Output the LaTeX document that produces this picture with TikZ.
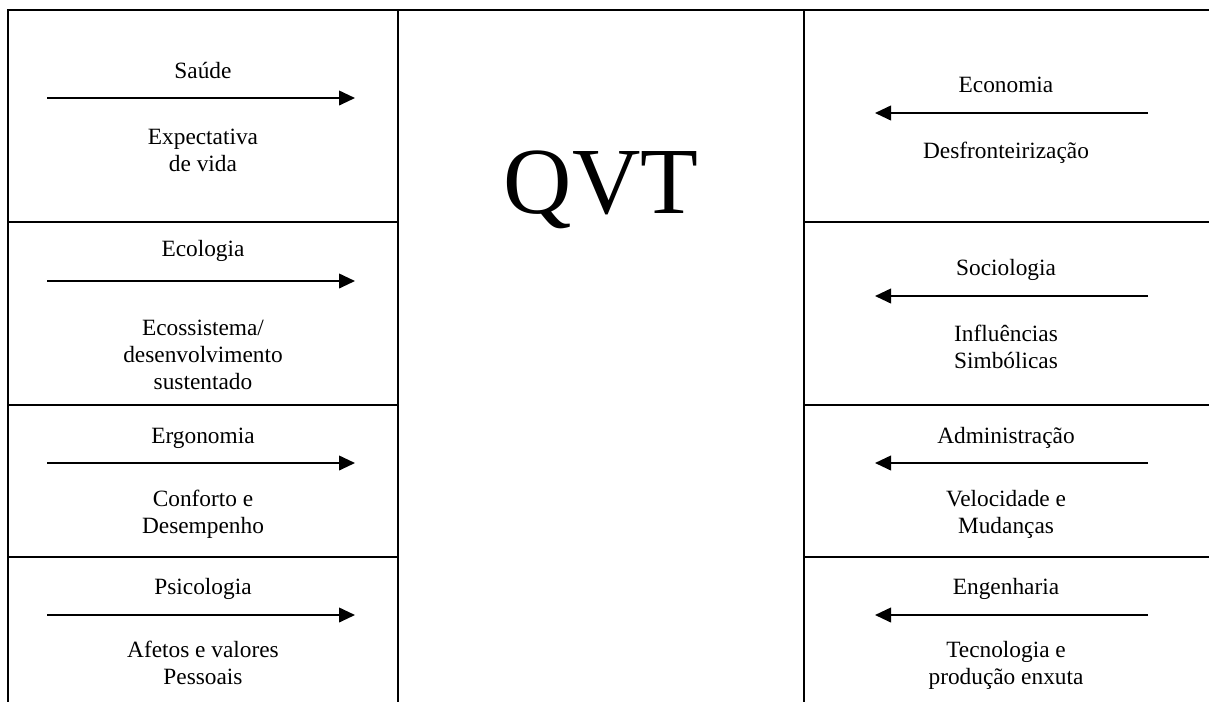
\documentclass[tikz,border=0pt]{standalone}
\usepackage{fontspec}
\setmainfont{Liberation Serif}
\usetikzlibrary{arrows.meta}
\begin{document}
\begin{tikzpicture}[x=0.75pt,y=-0.75pt,
  frame/.style={line width=2pt, line cap=rect},
  arr/.style={line width=1.4pt, -{Triangle[length=12pt,width=11pt]}},
  lbl/.style={font=\fontsize{17.5}{20.25}\selectfont, align=center, inner sep=0pt, anchor=base},
  big/.style={font=\fontsize{71}{80}\selectfont, inner sep=0pt, anchor=base}]
\useasboundingbox (0,0) rectangle (1209,701);
% table frame
\draw[frame] (8,701) -- (8,10) -- (1209,10);
\draw[frame] (398,10) -- (398,701);
\draw[frame] (804,10) -- (804,701);
\foreach \y in {222,405,557} {
  \draw[frame] (8,\y) -- (398,\y);
  \draw[frame] (804,\y) -- (1209,\y);
}
% centre
\node[big] (qvt) at (601,213) {QVT};
% left column (multi-line nodes are placed by the baseline of their last line)
\node[lbl] (saude) at (203,78) {Saúde};
\node[lbl] (saudeT) at (203,171) {Expectativa\\de vida};
\node[lbl] (eco) at (203,256) {Ecologia};
\node[lbl] (ecoT) at (203,389) {Ecossistema/\\desenvolvimento\\sustentado};
\node[lbl] (erg) at (203,443) {Ergonomia};
\node[lbl] (ergT) at (203,533) {Conforto e\\Desempenho};
\node[lbl] (psi) at (203,594) {Psicologia};
\node[lbl] (psiT) at (203,684) {Afetos e valores\\Pessoais};
\foreach \n/\y in {a/98,b/281,c/463,d/615} {
  \coordinate (L\n s) at (47,\y);
  \coordinate (L\n e) at (355,\y);
  \draw[arr] (L\n s) -- (L\n e);
}
% right column
\node[lbl] (econ) at (1006,92) {Economia};
\node[lbl] (econT) at (1006,158) {Desfronteirização};
\node[lbl] (soc) at (1006,275) {Sociologia};
\node[lbl] (socT) at (1006,368) {Influências\\Simbólicas};
\node[lbl] (adm) at (1006,443) {Administração};
\node[lbl] (admT) at (1006,533) {Velocidade e\\Mudanças};
\node[lbl] (eng) at (1006,594) {Engenharia};
\node[lbl] (engT) at (1006,684) {Tecnologia e\\produção enxuta};
\foreach \n/\y in {a/113,b/296,c/463,d/615} {
  \coordinate (R\n s) at (1148,\y);
  \coordinate (R\n e) at (875,\y);
  \draw[arr] (R\n s) -- (R\n e);
}
\end{tikzpicture}
\end{document}
